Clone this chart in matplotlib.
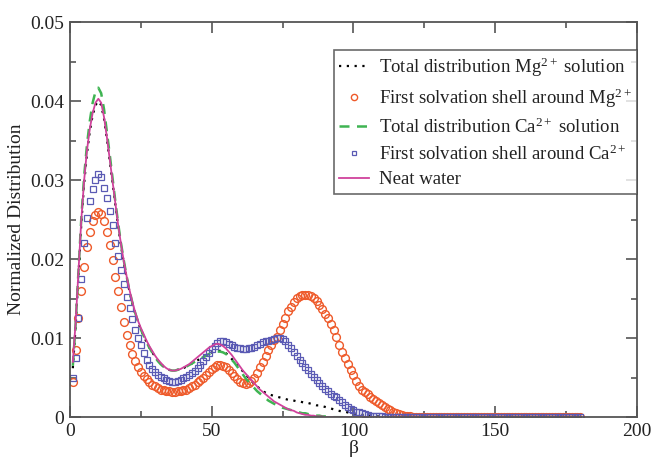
import numpy as np
import matplotlib
matplotlib.use("Agg")
import matplotlib.pyplot as plt
from matplotlib.ticker import MultipleLocator

plt.rcParams['font.family'] = ['Liberation Serif', 'DejaVu Serif']
plt.rcParams['mathtext.fontset'] = 'custom'
plt.rcParams['mathtext.rm'] = 'Liberation Serif'
plt.rcParams['mathtext.it'] = 'Liberation Serif:italic'

# angle beta in degrees, 1 degree bins
beta = np.arange(1, 181)

mg_total = [
    0.0062, 0.0115, 0.0180, 0.0245, 0.0296, 0.0334, 0.0362, 0.0382, 0.0395, 0.0400,
    0.0395, 0.0378, 0.0353, 0.0325, 0.0297, 0.0268, 0.0241, 0.0217, 0.0195, 0.0176,
    0.0159, 0.0144, 0.0131, 0.0120, 0.0111, 0.0103, 0.0095, 0.0088, 0.0082, 0.0077,
    0.0072, 0.0068, 0.0064, 0.0062, 0.0060, 0.0059, 0.0059, 0.0060, 0.0061, 0.0062,
    0.0064, 0.0066, 0.0068, 0.0070, 0.0072, 0.0074, 0.0076, 0.0078, 0.0080, 0.0082,
    0.0083, 0.0084, 0.0084, 0.0083, 0.0081, 0.0078, 0.0074, 0.0070, 0.0066, 0.0062,
    0.0058, 0.0054, 0.0050, 0.0046, 0.0042, 0.0039, 0.0036, 0.0033, 0.0031, 0.0029,
    0.0028, 0.0027, 0.0026, 0.0025, 0.0024, 0.0023, 0.0022, 0.0022, 0.0021, 0.0020,
    0.0020, 0.0019, 0.0018, 0.0018, 0.0017, 0.0016, 0.0015, 0.0015, 0.0014, 0.0013,
    0.0012, 0.0011, 0.0010, 0.0009, 0.0008, 0.0007, 0.0007, 0.0006, 0.0005, 0.0005,
    0.0004, 0.0004, 0.0003, 0.0003, 0.0002, 0.0002, 0.0002, 0.0001, 0.0001, 0.0001,
    0.0001, 0.0,
]

mg_shell = [
    0.0045, 0.0085, 0.0125, 0.0160, 0.0190, 0.0215, 0.0235, 0.0248, 0.0256, 0.0260,
    0.0257, 0.0248, 0.0234, 0.0218, 0.0199, 0.0178, 0.0160, 0.0140, 0.0120, 0.0104,
    0.0091, 0.0080, 0.0071, 0.0063, 0.0057, 0.0052, 0.0048, 0.0044, 0.0041, 0.0039,
    0.0037, 0.0035, 0.0034, 0.0033, 0.0033, 0.0032, 0.0032, 0.0033, 0.0033, 0.0034,
    0.0035, 0.0037, 0.0039, 0.0041, 0.0044, 0.0047, 0.0050, 0.0053, 0.0057, 0.0061,
    0.0064, 0.0066, 0.0066, 0.0065, 0.0063, 0.0060, 0.0056, 0.0052, 0.0048, 0.0045,
    0.0043, 0.0042, 0.0043, 0.0046, 0.0050, 0.0056, 0.0063, 0.0070, 0.0078, 0.0085,
    0.0092, 0.0098, 0.0102, 0.0110, 0.0118, 0.0126, 0.0134, 0.0140, 0.0146, 0.0151,
    0.0154, 0.0155, 0.0155, 0.0155, 0.0154, 0.0151, 0.0147, 0.0142, 0.0137, 0.0131,
    0.0125, 0.0118, 0.0110, 0.0101, 0.0092, 0.0083, 0.0075, 0.0067, 0.0060, 0.0053,
    0.0046, 0.0040, 0.0035, 0.0032, 0.0029, 0.0026, 0.0023, 0.0020, 0.0018, 0.0015,
    0.0013, 0.0011, 0.0009, 0.0007, 0.0005, 0.0004, 0.0003, 0.0002, 0.0001, 0.0001,
    0.0,
]

ca_total = [
    0.0065, 0.0118, 0.0185, 0.0252, 0.0305, 0.0345, 0.0375, 0.0398, 0.0412, 0.0417,
    0.0410, 0.0390, 0.0362, 0.0333, 0.0303, 0.0273, 0.0245, 0.0220, 0.0198, 0.0178,
    0.0160, 0.0145, 0.0132, 0.0121, 0.0111, 0.0103, 0.0095, 0.0088, 0.0082, 0.0076,
    0.0071, 0.0067, 0.0064, 0.0061, 0.0060, 0.0059, 0.0059, 0.0060, 0.0061, 0.0062,
    0.0064, 0.0066, 0.0068, 0.0070, 0.0072, 0.0074, 0.0076, 0.0078, 0.0080, 0.0081,
    0.0082, 0.0083, 0.0083, 0.0082, 0.0080, 0.0077, 0.0073, 0.0069, 0.0064, 0.0059,
    0.0054, 0.0049, 0.0045, 0.0041, 0.0037, 0.0033, 0.0030, 0.0027, 0.0024, 0.0021,
    0.0019, 0.0017, 0.0015, 0.0014, 0.0012, 0.0011, 0.0010, 0.0009, 0.0008, 0.0007,
    0.0006, 0.0005, 0.0005, 0.0004, 0.0003, 0.0003, 0.0002, 0.0002, 0.0001, 0.0001,
    0.0001, 0.0001, 0.0,
]

ca_shell = [
    0.0050, 0.0075, 0.0125, 0.0175, 0.0220, 0.0252, 0.0273, 0.0289, 0.0300, 0.0308,
    0.0304, 0.0290, 0.0278, 0.0261, 0.0243, 0.0221, 0.0204, 0.0186, 0.0168, 0.0152,
    0.0138, 0.0124, 0.0110, 0.0100, 0.0091, 0.0081, 0.0072, 0.0066, 0.0061, 0.0057,
    0.0054, 0.0051, 0.0049, 0.0047, 0.0046, 0.0045, 0.0045, 0.0046, 0.0047, 0.0049,
    0.0051, 0.0053, 0.0056, 0.0059, 0.0062, 0.0066, 0.0071, 0.0076, 0.0081, 0.0086,
    0.0090, 0.0094, 0.0096, 0.0096, 0.0095, 0.0093, 0.0091, 0.0089, 0.0088, 0.0087,
    0.0086, 0.0086, 0.0087, 0.0088, 0.0089, 0.0091, 0.0093, 0.0095, 0.0096, 0.0097,
    0.0098, 0.0099, 0.0100, 0.0100, 0.0099, 0.0096, 0.0092, 0.0087, 0.0082, 0.0077,
    0.0072, 0.0068, 0.0064, 0.0060, 0.0055, 0.0051, 0.0047, 0.0043, 0.0040, 0.0036,
    0.0033, 0.0030, 0.0027, 0.0025, 0.0022, 0.0019, 0.0016, 0.0013, 0.0010, 0.0009,
    0.0007, 0.0006, 0.0005, 0.0004, 0.0003, 0.0002, 0.0002, 0.0001, 0.0001, 0.0001,
    0.0,
]

neat_water = [
    0.0070, 0.0120, 0.0185, 0.0250, 0.0300, 0.0338, 0.0365, 0.0385, 0.0398, 0.0403,
    0.0398, 0.0380, 0.0355, 0.0327, 0.0299, 0.0270, 0.0243, 0.0219, 0.0197, 0.0178,
    0.0161, 0.0146, 0.0133, 0.0122, 0.0113, 0.0105, 0.0097, 0.0090, 0.0084, 0.0078,
    0.0073, 0.0069, 0.0065, 0.0062, 0.0060, 0.0059, 0.0059, 0.0060, 0.0061, 0.0063,
    0.0065, 0.0067, 0.0070, 0.0073, 0.0076, 0.0079, 0.0082, 0.0085, 0.0088, 0.0090,
    0.0092, 0.0093, 0.0092, 0.0090, 0.0087, 0.0083, 0.0079, 0.0074, 0.0069, 0.0064,
    0.0059, 0.0055, 0.0051, 0.0047, 0.0043, 0.0039, 0.0035, 0.0032, 0.0029, 0.0026,
    0.0023, 0.0020, 0.0018, 0.0016, 0.0014, 0.0012, 0.0010, 0.0009, 0.0008, 0.0006,
    0.0005, 0.0004, 0.0003, 0.0003, 0.0002, 0.0002, 0.0001, 0.0001, 0.0001, 0.0,
]

labels = [
    r'Total distribution Mg$^{\mathrm{2+}}$ solution',
    r'First solvation shell around Mg$^{\mathrm{2+}}$',
    r'Total distribution Ca$^{\mathrm{2+}}$ solution',
    r'First solvation shell around Ca$^{\mathrm{2+}}$',
    'Neat water',
]

xticks = [0, 50, 100, 150, 200]
yticks = [0, 0.01, 0.02, 0.03, 0.04, 0.05]
ytick_labels = ['0', '0.01', '0.02', '0.03', '0.04', '0.05']


def pad(vals):
    # distributions are zero past the last listed bin
    return np.array(vals + [0.0] * (len(beta) - len(vals)))


fig = plt.figure(figsize=(6.54, 4.61), dpi=100)
ax = fig.add_axes([0.107, 0.095, 0.867, 0.857])

ax.plot(beta, pad(mg_total), color='black', linestyle=(0, (1, 2.5)),
        linewidth=1.6, label=labels[0])
ax.plot(beta, pad(mg_shell), linestyle='none', marker='o', markersize=5.6,
        markerfacecolor='none', markeredgecolor='#ee5a2a', markeredgewidth=1.0,
        label=labels[1])
ax.plot(beta, pad(ca_total), color='#3fb452', linestyle=(0, (4, 3)),
        linewidth=1.8, label=labels[2])
ax.plot(beta, pad(ca_shell), linestyle='none', marker='s', markersize=4.3,
        markerfacecolor='none', markeredgecolor='#5a5ab4', markeredgewidth=0.9,
        label=labels[3])
ax.plot(beta, pad(neat_water), color='#d0429c', linewidth=1.3, label=labels[4])

ax.set_xlim(0, 200)
ax.set_ylim(0, 0.05)
ax.set_xticks(xticks)
ax.set_yticks(yticks)
ax.set_yticklabels(ytick_labels)
ax.xaxis.set_minor_locator(MultipleLocator(25))
ax.yaxis.set_minor_locator(MultipleLocator(0.005))

spine_col = '#555555'
for s in ax.spines.values():
    s.set_color(spine_col)
    s.set_linewidth(1.3)
ax.tick_params(which='both', direction='in', top=True, right=True,
               color=spine_col, width=1.2, labelsize=14, labelcolor='#222222')
ax.tick_params(which='major', length=8, pad=4)
ax.tick_params(which='minor', length=4)

ax.set_xlabel('β', fontsize=14, color='#222222', labelpad=0)
ax.set_ylabel('Normalized Distribution', fontsize=14, color='#222222', labelpad=4)

leg = ax.legend(loc='upper right', bbox_to_anchor=(1.0, 0.93), fontsize=13.5,
                frameon=True, fancybox=False, handlelength=1.6,
                handletextpad=0.5, labelspacing=0.4, borderpad=0.3,
                borderaxespad=0.0, markerscale=0.8, numpoints=1)
leg.get_frame().set_edgecolor('#444444')
leg.get_frame().set_linewidth(1.2)
for t in leg.get_texts():
    t.set_color('#222222')

fig.savefig('out.png', dpi=100)
